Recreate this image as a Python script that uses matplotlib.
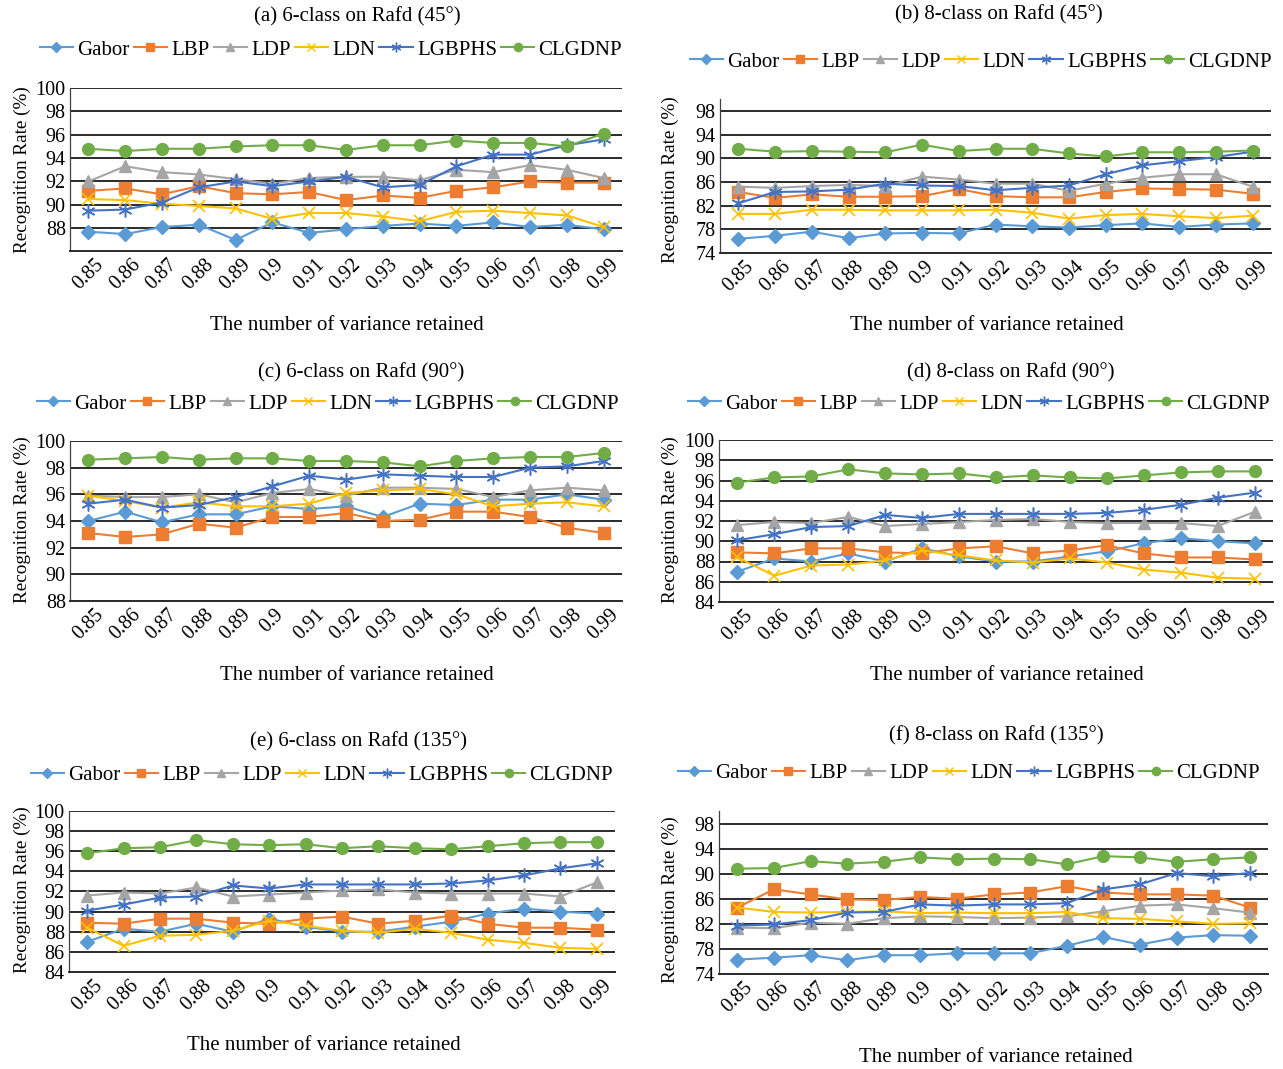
import matplotlib
matplotlib.use("Agg")
import matplotlib.pyplot as plt
from matplotlib.lines import Line2D

W, H = 1283, 1069
DPI = 100

variance = ["0.85", "0.86", "0.87", "0.88", "0.89", "0.9", "0.91", "0.92",
            "0.93", "0.94", "0.95", "0.96", "0.97", "0.98", "0.99"]
methods = ["Gabor", "LBP", "LDP", "LDN", "LGBPHS", "CLGDNP"]

# (a) 6-class on Rafd (45°)
a_gabor = [87.7, 87.5, 88.1, 88.3, 87.0, 88.5, 87.6, 87.9, 88.2, 88.4, 88.2, 88.5, 88.1, 88.3, 87.9]
a_lbp = [91.2, 91.4, 90.9, 91.6, 91.0, 90.9, 91.1, 90.4, 90.8, 90.6, 91.2, 91.5, 92.0, 91.9, 91.9]
a_ldp = [92.0, 93.3, 92.8, 92.6, 92.2, 91.8, 92.3, 92.4, 92.4, 92.1, 93.0, 92.8, 93.4, 93.0, 92.3]
a_ldn = [90.5, 90.4, 90.1, 89.9, 89.7, 88.8, 89.3, 89.3, 89.0, 88.6, 89.4, 89.5, 89.3, 89.1, 88.1]
a_lgbphs = [89.5, 89.6, 90.2, 91.5, 92.0, 91.6, 92.0, 92.4, 91.5, 91.7, 93.3, 94.3, 94.3, 95.1, 95.6]
a_clgdnp = [94.8, 94.6, 94.8, 94.8, 95.0, 95.1, 95.1, 94.7, 95.1, 95.1, 95.5, 95.3, 95.3, 95.0, 96.1]

# (b) 8-class on Rafd (45°)
b_gabor = [76.4, 76.9, 77.6, 76.5, 77.3, 77.4, 77.3, 78.8, 78.5, 78.3, 78.7, 79.0, 78.4, 78.8, 79.0]
b_lbp = [84.3, 83.3, 83.9, 83.5, 83.5, 83.6, 84.8, 83.6, 83.4, 83.4, 84.3, 84.9, 84.8, 84.7, 84.0]
b_ldp = [85.2, 85.0, 85.3, 85.5, 85.3, 86.9, 86.4, 85.7, 85.7, 84.5, 85.7, 86.7, 87.3, 87.3, 85.2]
b_ldn = [80.6, 80.6, 81.3, 81.3, 81.2, 81.2, 81.2, 81.3, 80.8, 79.8, 80.4, 80.6, 80.2, 79.9, 80.3]
b_lgbphs = [82.4, 84.3, 84.4, 84.7, 85.7, 85.4, 85.3, 84.6, 85.0, 85.4, 87.3, 88.8, 89.5, 90.2, 91.1]
b_clgdnp = [91.6, 91.1, 91.2, 91.1, 91.0, 92.3, 91.2, 91.6, 91.6, 90.8, 90.3, 91.0, 91.0, 91.1, 91.3]

# (c) 6-class on Rafd (90°)
c_gabor = [94.0, 94.7, 93.9, 94.5, 94.5, 95.1, 94.9, 95.1, 94.3, 95.3, 95.2, 95.6, 95.6, 96.0, 95.6]
c_lbp = [93.1, 92.8, 93.0, 93.8, 93.5, 94.3, 94.3, 94.6, 94.0, 94.1, 94.7, 94.7, 94.3, 93.5, 93.1]
c_ldp = [95.9, 95.8, 95.8, 96.0, 95.4, 96.1, 96.4, 95.9, 96.5, 96.5, 96.4, 95.8, 96.3, 96.5, 96.3]
c_ldn = [95.9, 95.5, 95.0, 95.4, 95.1, 95.1, 95.3, 96.1, 96.3, 96.4, 96.0, 95.1, 95.3, 95.4, 95.1]
c_lgbphs = [95.3, 95.6, 95.0, 95.2, 95.8, 96.6, 97.4, 97.1, 97.5, 97.4, 97.3, 97.3, 98.0, 98.1, 98.5]
c_clgdnp = [98.6, 98.7, 98.8, 98.6, 98.7, 98.7, 98.5, 98.5, 98.4, 98.1, 98.5, 98.7, 98.8, 98.8, 99.1]

# (d) 8-class on Rafd (90°)
d_gabor = [87.0, 88.3, 88.0, 88.8, 88.0, 89.3, 88.5, 88.0, 88.0, 88.5, 89.0, 89.8, 90.3, 90.0, 89.8]
d_lbp = [88.9, 88.8, 89.3, 89.3, 88.9, 88.8, 89.3, 89.5, 88.8, 89.1, 89.6, 88.8, 88.4, 88.4, 88.2]
d_ldp = [91.6, 91.9, 91.8, 92.4, 91.5, 91.7, 91.9, 92.1, 92.2, 91.9, 91.8, 91.8, 91.8, 91.5, 92.9]
d_ldn = [88.4, 86.6, 87.6, 87.7, 88.1, 89.1, 88.6, 88.1, 87.9, 88.3, 87.9, 87.2, 86.9, 86.4, 86.3]
d_lgbphs = [90.1, 90.7, 91.4, 91.5, 92.6, 92.3, 92.7, 92.7, 92.7, 92.7, 92.8, 93.1, 93.6, 94.3, 94.8]
d_clgdnp = [95.8, 96.3, 96.4, 97.1, 96.7, 96.6, 96.7, 96.3, 96.5, 96.3, 96.2, 96.5, 96.8, 96.9, 96.9]

# (e) 6-class on Rafd (135°)
e_gabor = [87.0, 88.3, 88.0, 88.8, 88.0, 89.3, 88.5, 88.0, 88.0, 88.5, 89.0, 89.8, 90.3, 90.0, 89.8]
e_lbp = [88.9, 88.8, 89.3, 89.3, 88.9, 88.8, 89.3, 89.5, 88.8, 89.1, 89.6, 88.8, 88.4, 88.4, 88.2]
e_ldp = [91.6, 91.9, 91.8, 92.4, 91.5, 91.7, 91.9, 92.1, 92.2, 91.9, 91.8, 91.8, 91.8, 91.5, 92.9]
e_ldn = [88.4, 86.6, 87.6, 87.7, 88.1, 89.1, 88.6, 88.1, 87.9, 88.3, 87.9, 87.2, 86.9, 86.4, 86.3]
e_lgbphs = [90.1, 90.7, 91.4, 91.5, 92.6, 92.3, 92.7, 92.7, 92.7, 92.7, 92.8, 93.1, 93.6, 94.3, 94.8]
e_clgdnp = [95.8, 96.3, 96.4, 97.1, 96.7, 96.6, 96.7, 96.3, 96.5, 96.3, 96.2, 96.5, 96.8, 96.9, 96.9]

# (f) 8-class on Rafd (135°)
f_gabor = [76.3, 76.6, 77.0, 76.2, 77.0, 77.0, 77.3, 77.3, 77.3, 78.5, 79.9, 78.7, 79.8, 80.2, 80.1]
f_lbp = [84.6, 87.5, 86.7, 85.9, 85.8, 86.3, 86.0, 86.7, 87.0, 88.0, 87.0, 86.7, 86.7, 86.5, 84.6]
f_ldp = [81.4, 81.3, 82.2, 82.0, 82.9, 83.2, 83.1, 82.9, 83.0, 83.2, 84.0, 84.9, 85.1, 84.5, 83.8]
f_ldn = [84.6, 83.9, 83.8, 83.9, 84.0, 83.7, 83.8, 83.7, 83.7, 83.9, 82.9, 82.8, 82.4, 82.0, 82.1]
f_lgbphs = [81.7, 81.9, 82.6, 83.8, 83.9, 85.1, 84.9, 85.1, 85.1, 85.3, 87.5, 88.3, 90.1, 89.6, 90.1]
f_clgdnp = [90.8, 90.9, 92.0, 91.6, 91.9, 92.6, 92.3, 92.4, 92.3, 91.5, 92.8, 92.6, 91.9, 92.3, 92.6]

titles = ["(a) 6-class on Rafd (45°)", "(b) 8-class on Rafd (45°)",
          "(c) 6-class on Rafd (90°)", "(d) 8-class on Rafd (90°)",
          "(e) 6-class on Rafd (135°)", "(f) 8-class on Rafd (135°)"]

styles = {
    "Gabor": dict(color="#5B9BD5", marker="D", ms=7),
    "LBP": dict(color="#ED7D31", marker="s", ms=8),
    "LDP": dict(color="#A5A5A5", marker="^", ms=8.5),
    "LDN": dict(color="#FFC000", marker="x", ms=8, mew=1.2),
    "LGBPHS": dict(color="#4472C4", marker=(6, 2, 0), ms=10, mew=1.1),
    "CLGDNP": dict(color="#70AD47", marker="o", ms=8.5),
}

plt.rcParams["font.family"] = ["Liberation Serif", "DejaVu Serif"]
FS_TEXT = 15
FS_TICK = 14.5
FS_YLAB = 13.8

fig = plt.figure(figsize=(W / DPI, H / DPI), dpi=DPI)


def fx(px):
    return px / W


def fy(py):
    return 1 - py / H


panels = [
    dict(series=[a_gabor, a_lbp, a_ldp, a_ldn, a_lgbphs, a_clgdnp],
         box=(70, 622, 88, 251), ylim=(86.05, 100), yticks=range(88, 101, 2),
         title=(357, 17), legend=(331, 50), xlabel=(347, 325), ylabel=(22, 170)),
    dict(series=[b_gabor, b_lbp, b_ldp, b_ldn, b_lgbphs, b_clgdnp],
         box=(720, 1271, 99, 253), ylim=(74, 100), yticks=range(74, 99, 4),
         title=(999, 15), legend=(981, 62), xlabel=(987, 325), ylabel=(670, 180)),
    dict(series=[c_gabor, c_lbp, c_ldp, c_ldn, c_lgbphs, c_clgdnp],
         box=(70, 622, 441, 601), ylim=(88, 100), yticks=range(88, 101, 2),
         title=(361, 373), legend=(328, 404), xlabel=(357, 675), ylabel=(22, 520)),
    dict(series=[d_gabor, d_lbp, d_ldp, d_ldn, d_lgbphs, d_clgdnp],
         box=(719, 1273, 440, 602), ylim=(84, 100), yticks=range(84, 101, 2),
         title=(1011, 373), legend=(979, 404), xlabel=(1007, 675), ylabel=(670, 520)),
    dict(series=[e_gabor, e_lbp, e_ldp, e_ldn, e_lgbphs, e_clgdnp],
         box=(69, 615, 811, 972), ylim=(84, 100), yticks=range(84, 101, 2),
         title=(358, 742), legend=(322, 775), xlabel=(324, 1046), ylabel=(22, 890)),
    dict(series=[f_gabor, f_lbp, f_ldp, f_ldn, f_lgbphs, f_clgdnp],
         box=(719, 1268, 811, 974), ylim=(74, 100), yticks=range(74, 99, 4),
         title=(996, 736), legend=(969, 773), xlabel=(996, 1057), ylabel=(670, 900)),
]

xs = list(range(len(variance)))

for p, title in zip(panels, titles):
    x0, x1, y0, y1 = p["box"]
    ax = fig.add_axes([fx(x0), fy(y1), fx(x1 - x0), (y1 - y0) / H])
    for name, vals in zip(methods, p["series"]):
        st = styles[name]
        ax.plot(xs, vals, color=st["color"], lw=1.5, marker=st["marker"],
                markersize=st["ms"], markerfacecolor=st["color"],
                markeredgecolor=st["color"], markeredgewidth=st.get("mew", 1.0),
                zorder=3)
    ax.set_xlim(-0.5, len(variance) - 0.5)
    ax.set_ylim(*p["ylim"])
    ax.set_yticks(list(p["yticks"]))
    ax.set_xticks(xs)
    ax.set_xticklabels(variance, rotation=45, ha="center", va="top")
    ax.tick_params(axis="both", length=0, labelsize=FS_TICK, pad=3)
    ax.yaxis.grid(True, color="#2b2b2b", lw=1.4, zorder=0)
    ax.set_axisbelow(True)
    for s in ("top", "right"):
        ax.spines[s].set_visible(False)
    ax.spines["left"].set_color("#404040")
    ax.spines["left"].set_linewidth(0.9)
    ax.spines["bottom"].set_color("#2b2b2b")
    ax.spines["bottom"].set_linewidth(1.4)

    fig.text(fx(p["title"][0]), fy(p["title"][1]), title,
             ha="center", va="center", fontsize=FS_TEXT)
    fig.text(fx(p["xlabel"][0]), fy(p["xlabel"][1]),
             "The number of variance retained", ha="center", va="center",
             fontsize=FS_TEXT)
    fig.text(fx(p["ylabel"][0]), fy(p["ylabel"][1]), "Recognition Rate (%)",
             ha="center", va="center", rotation=90, fontsize=FS_YLAB)

    handles = [Line2D([], [], color=styles[m]["color"], lw=1.5,
                      marker=styles[m]["marker"], markersize=styles[m]["ms"] * 0.7,
                      markerfacecolor=styles[m]["color"],
                      markeredgecolor=styles[m]["color"]) for m in methods]
    fig.legend(handles, methods, loc="center",
               bbox_to_anchor=(fx(p["legend"][0]), fy(p["legend"][1])),
               ncol=6, frameon=False, fontsize=FS_TEXT, handlelength=1.6,
               handletextpad=0.2, columnspacing=0.2, borderpad=0)

fig.savefig("out.png", dpi=DPI)
